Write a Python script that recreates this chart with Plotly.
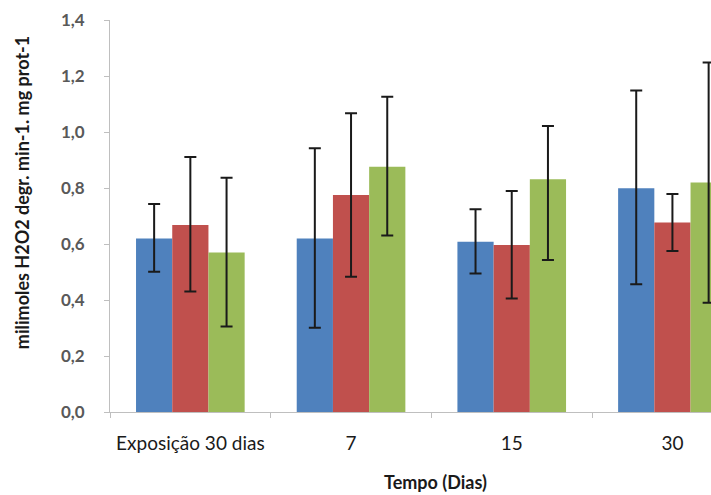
import plotly.graph_objects as go

categories = ["Exposição 30 dias", "7", "15", "30"]

blue_vals = [0.620, 0.620, 0.608, 0.799]
blue_err_hi = [0.743, 0.942, 0.724, 1.148]
blue_err_lo = [0.501, 0.301, 0.495, 0.456]

red_vals = [0.668, 0.775, 0.596, 0.677]
red_err_hi = [0.911, 1.067, 0.789, 0.779]
red_err_lo = [0.430, 0.483, 0.405, 0.575]

green_vals = [0.570, 0.876, 0.831, 0.820]
green_err_hi = [0.837, 1.126, 1.021, 1.248]
green_err_lo = [0.305, 0.630, 0.543, 0.390]

series = [
    ("A", blue_vals, blue_err_hi, blue_err_lo, "#4F81BD"),
    ("B", red_vals, red_err_hi, red_err_lo, "#C0504D"),
    ("C", green_vals, green_err_hi, green_err_lo, "#9BBB59"),
]

fig = go.Figure()
for name, vals, hi, lo, col in series:
    fig.add_trace(go.Bar(
        x=categories, y=vals, name=name,
        marker=dict(color=col, line=dict(width=0)),
        error_y=dict(
            type="data", symmetric=False,
            array=[h - v for h, v in zip(hi, vals)],
            arrayminus=[v - l for v, l in zip(vals, lo)],
            color="#1a1a1a", thickness=2, width=6,
        ),
    ))

fig.update_layout(
    width=711, height=495,
    margin=dict(l=110, r=0, t=20, b=83),
    barmode="group", bargap=0.324, bargroupgap=0,
    showlegend=False,
    plot_bgcolor="white", paper_bgcolor="white",
    separators=",.",
    font=dict(family="Lato, Liberation Sans, sans-serif"),
)
fig.update_xaxes(
    type="category", range=[-0.5, 3.24],
    showline=True, linecolor="#BFBFBF", linewidth=1,
    ticks="outside", tickson="boundaries", ticklen=5, tickcolor="#BFBFBF",
    showgrid=False,
    tickfont=dict(size=19, color="#1a1a1a"),
    ticklabelstandoff=14,
)
fig.update_yaxes(
    range=[0, 1.4], dtick=0.2, tickformat=".1f",
    showline=True, linecolor="#BFBFBF", linewidth=1,
    ticks="outside", ticklen=5, tickcolor="#BFBFBF",
    showgrid=False, zeroline=False,
    tickfont=dict(size=17, color="#595959", family="Lato, sans-serif", weight="bold"),
    ticklabelstandoff=16,
)
fig.add_annotation(
    text="<b>milimoles H2O2 degr. min-1. mg prot-1</b>",
    xref="paper", yref="paper", x=-0.146, y=0.559,
    textangle=-90, showarrow=False,
    font=dict(size=18, color="#1a1a1a"),
    xanchor="center", yanchor="middle",
)
fig.add_annotation(
    text="<b>Tempo (Dias)</b>",
    xref="paper", yref="paper", x=0.541, y=-0.178,
    showarrow=False,
    font=dict(size=18, color="#1a1a1a"),
    xanchor="center", yanchor="middle",
)

fig.write_html("out.html")
